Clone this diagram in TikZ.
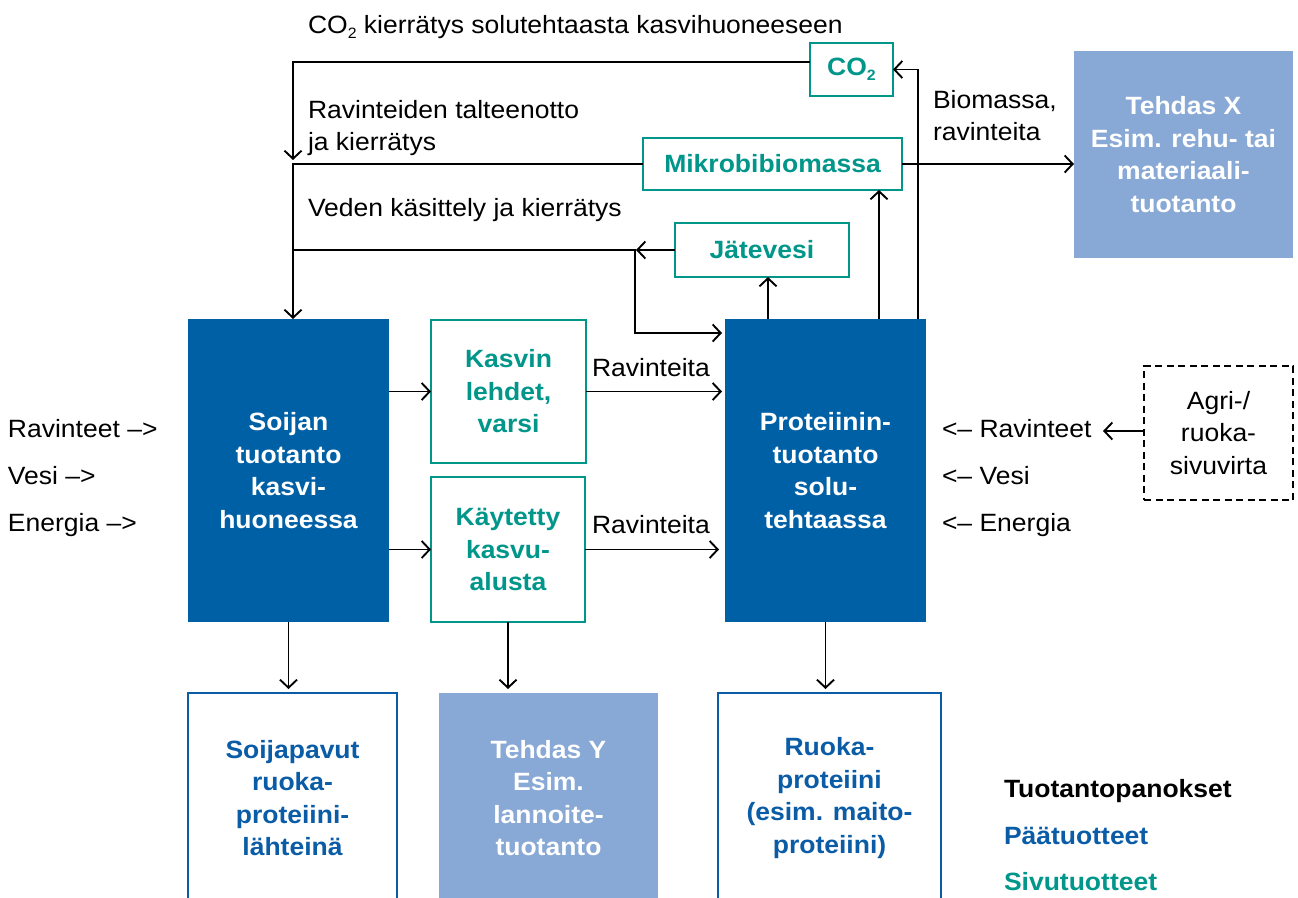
\documentclass[tikz,border=0pt]{standalone}
\usepackage{fontspec}
\setmainfont{Liberation Sans}[FakeStretch=1.06]
\usetikzlibrary{arrows.meta,calc}
\definecolor{dblue}{HTML}{0060A6}
\definecolor{lblue}{HTML}{88A8D5}
\definecolor{tealc}{HTML}{00968A}
\definecolor{tblue}{HTML}{0A5CA6}
\newcommand\fsz{\fontsize{25}{32.5}\selectfont}
\newcommand\lowsub[1]{\raisebox{-5pt}{\fontsize{15}{15}\selectfont #1}}
\tikzset{
  every node/.style={font=\fsz, inner sep=0pt, outer sep=0pt},
  mainbox/.style={fill=dblue, text=white, font=\fsz\bfseries, align=center},
  sidebox/.style={draw=tealc, line width=2pt, fill=white, text=tealc, font=\fsz\bfseries, align=center},
  prodbox/.style={draw=tblue, line width=1.3pt, fill=white, text=tblue, font=\fsz\bfseries, align=center},
  factory/.style={fill=lblue, text=white, font=\fsz\bfseries, align=center},
  srcbox/.style={draw=black, line width=2pt, dash pattern=on 7pt off 4.5pt, align=center},
  lbl/.style={anchor=base west, align=left},
  arr/.style={draw=black, line width=1.9pt, -{Straight Barb[length=8pt,width=17pt,line width=1.9pt]}}
}
\begin{document}
\begin{tikzpicture}[x=1pt,y=-1pt]
\useasboundingbox (0,0) rectangle (1298,897);
% main boxes
\node[mainbox, minimum width=201, minimum height=303] (soija) at (288.5,470.5) {Soijan\\tuotanto\\kasvi-\\huoneessa};
\node[mainbox, minimum width=201, minimum height=303] (prot) at (825.5,470.5) {Proteiinin-\\tuotanto\\solu-\\tehtaassa};
% side products
\node[sidebox, minimum width=155, minimum height=143] (kasvin) at (508.5,391.5) {Kasvin\\lehdet,\\varsi};
\node[sidebox, minimum width=154, minimum height=145] (kayt) at (508,549.5) {Käytetty\\kasvu-\\alusta};
\node[sidebox, minimum width=83, minimum height=53] (co2) at (851.5,69.5) {CO\lowsub{2}};
\node[sidebox, minimum width=259, minimum height=52] (mikro) at (772.5,164) {Mikrobibiomassa};
\node[sidebox, minimum width=174, minimum height=54] (jate) at (762,250) {Jätevesi};
% products
\node[prodbox, minimum width=209, minimum height=210] (soijap) at (292.5,798) {Soijapavut\\ruoka-\\proteiini-\\lähteinä};
\node[factory, minimum width=219, minimum height=210] (tehy) at (548.5,798) {Tehdas Y\\Esim.\\lannoite-\\tuotanto};
\node[prodbox, minimum width=223, minimum height=210] (ruoka) at (829.5,798) {Ruoka-\\proteiini\\(esim. maito-\\proteiini)};
\node[factory, minimum width=219, minimum height=207] (tehx) at (1183.5,154.5) {Tehdas X\\Esim. rehu- tai\\materiaali-\\tuotanto};
\node[srcbox, minimum width=149, minimum height=134] (agri) at (1218.5,433) {Agri-/\\ruoka-\\sivuvirta};
% free texts
\node[lbl] (tco2) at (308,33) {CO\lowsub{2} kierrätys solutehtaasta kasvihuoneeseen};
\node[lbl] (trav1) at (308,118) {Ravinteiden talteenotto};
\node[lbl] (trav2) at (308,150) {ja kierrätys};
\node[lbl] (tved) at (308,216) {Veden käsittely ja kierrätys};
\node[lbl] (tbio1) at (933,108) {Biomassa,};
\node[lbl] (tbio2) at (933,140) {ravinteita};
\node[lbl] (trvA) at (592,376) {Ravinteita};
\node[lbl] (trvB) at (592,533) {Ravinteita};
\node[lbl] (inL1) at (8,437) {Ravinteet –>};
\node[lbl] (inL2) at (8,484) {Vesi –>};
\node[lbl] (inL3) at (8,531) {Energia –>};
\node[lbl] (inR1) at (942,437) {<– Ravinteet};
\node[lbl] (inR2) at (942,484) {<– Vesi};
\node[lbl] (inR3) at (942,531) {<– Energia};
\node[lbl, font=\fsz\bfseries] (leg1) at (1004,797) {Tuotantopanokset};
\node[lbl, font=\fsz\bfseries, text=tblue] (leg2) at (1004,844) {Päätuotteet};
\node[lbl, font=\fsz\bfseries, text=tealc] (leg3) at (1004,890) {Sivutuotteet};
% coordinates
\coordinate (c1) at (293,160);
\coordinate (s1) at (293,319);
\coordinate (j1) at (636,250);
\coordinate (w1) at (293,250);
\coordinate (w2) at (635,250);
\coordinate (w3) at (635,333);
\coordinate (p1) at (768,319);
\coordinate (p2) at (879,319);
\coordinate (p3) at (918,319);
\coordinate (a1) at (1103,431);
% connectors
\draw[arr] ([yshift=7.5pt]co2.west) -| (c1);
\draw[arr] (mikro.west) -| (s1);
\draw[arr] (jate.west) -- (j1);
\draw[arr] (w1) -- (w2) -- (w3) -- ($(w3 -| prot.west)+(-3,0)$);
\draw[arr] (p1) -- (p1 |- jate.south);
\draw[arr] (p2) -- (p2 |- mikro.south);
\draw[arr] (p3) |- (co2.east);
\draw[arr] (mikro.east) -- (mikro.east -| tehx.west);
\draw[arr] (soija.east |- kasvin.west) -- (kasvin.west);
\draw[arr] (soija.east |- kayt.west) -- (kayt.west);
\draw[arr] (kasvin.east) -- ($(kasvin.east -| prot.west)+(-3,0)$);
\draw[arr] (kayt.east) -- ($(kayt.east -| prot.west)+(-6,0)$);
\draw[arr] (soija.south) -- ($(soija.south |- soijap.north)+(0,-4)$);
\draw[arr] (kayt.south) -- ($(kayt.south |- tehy.north)+(0,-4)$);
\draw[arr] (prot.south) -- ($(prot.south |- ruoka.north)+(0,-4)$);
\draw[arr] (agri.west |- a1) -- (a1);
\end{tikzpicture}
\end{document}
